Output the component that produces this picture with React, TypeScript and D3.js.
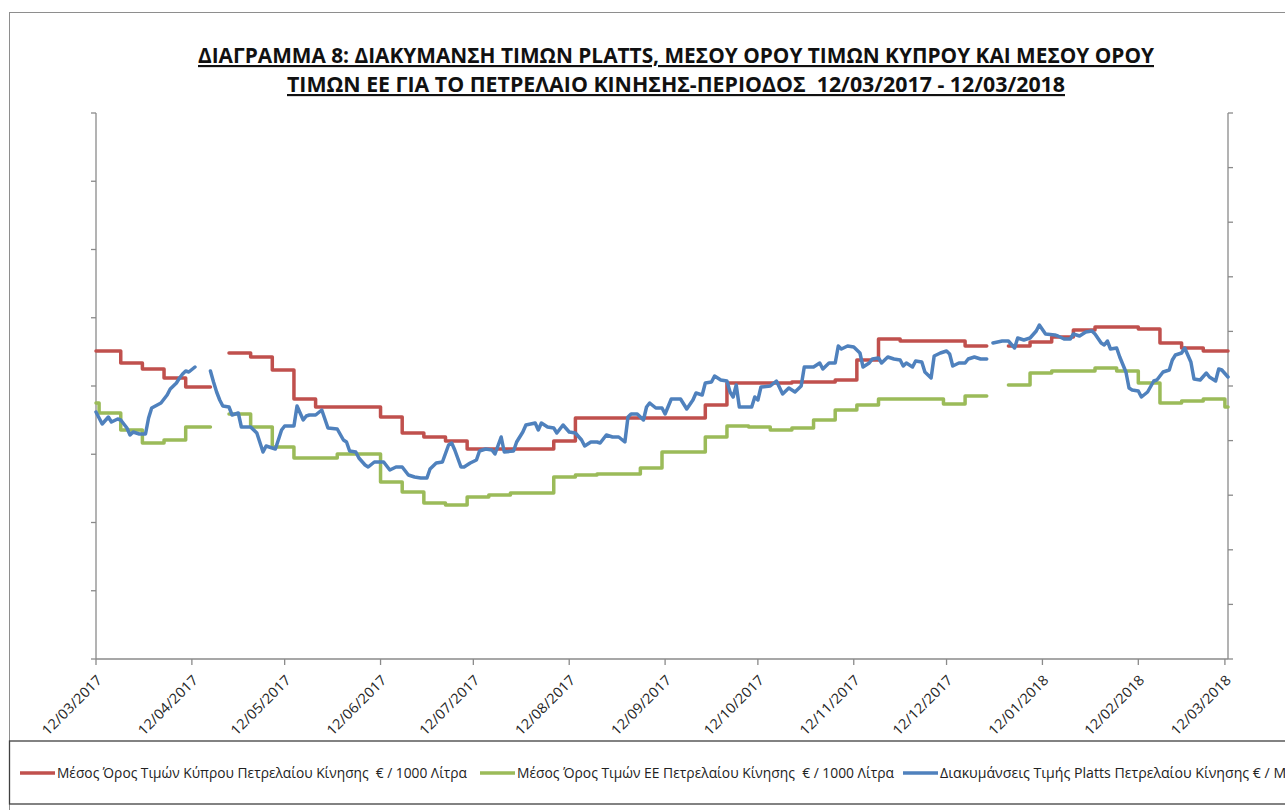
import * as d3 from "d3";
import React, { useEffect, useRef } from "react";

// title (two lines, as in the original)
const titleLines = [
    "ΔΙΑΓΡΑΜΜΑ 8: ΔΙΑΚΥΜΑΝΣΗ ΤΙΜΩΝ PLATTS, ΜΕΣΟΥ ΟΡΟΥ ΤΙΜΩΝ ΚΥΠΡΟΥ ΚΑΙ ΜΕΣΟΥ ΟΡΟΥ",
    "ΤΙΜΩΝ ΕΕ ΓΙΑ ΤΟ ΠΕΤΡΕΛΑΙΟ ΚΙΝΗΣΗΣ-ΠΕΡΙΟΔΟΣ  12/03/2017 - 12/03/2018",
];

const seriesNames = [
    "Μέσος Όρος Τιμών Κύπρου Πετρελαίου Κίνησης  € / 1000 Λίτρα",
    "Μέσος Όρος Τιμών ΕΕ Πετρελαίου Κίνησης  € / 1000 Λίτρα",
    "Διακυμάνσεις Τιμής Platts Πετρελαίου Κίνησης € / MT",
];
const seriesColours = ["#C0504D", "#9BBB59", "#4F81BD"];

const tickLabels = [
    "12/03/2017", "12/04/2017", "12/05/2017", "12/06/2017", "12/07/2017",
    "12/08/2017", "12/09/2017", "12/10/2017", "12/11/2017", "12/12/2017",
    "12/01/2018", "12/02/2018", "12/03/2018",
];

const startDate = "12/03/2017";
const endDate = "13/03/2018";

// the value axes have no labels in the original, these ranges are estimates
const leftDomain = [300, 846];   // € / 1000 L
const rightDomain = [200, 746];  // € / MT

// [days since 12/03/2017, price], null = no data (holidays)
const cyprusAvg: [number, number | null][] = [
    [0, 608], [8, 596], [15, 590], [22, 581], [29, 572], [37, 572], [40, null],
    [43, 606], [50, 602], [57, 589], [64, 560], [71, 552], [92, 542], [99, 526],
    [106, 522], [113, 518], [120, 510], [148, 518], [155, 541], [197, 554],
    [204, 576], [225, 577], [239, 579], [246, 599], [253, 620], [260, 618],
    [281, 613], [288, 613], [291, null],
    [295, 613], [302, 617], [309, 622], [316, 629], [323, 632], [337, 630],
    [344, 616], [351, 611], [358, 608], [366, 608],
];

const euAvg: [number, number | null][] = [
    [0, 556], [1, 546], [8, 529], [15, 516], [22, 519], [29, 532], [37, 532], [40, null],
    [43, 545], [50, 532], [57, 512], [64, 501], [78, 505], [92, 477], [99, 467],
    [106, 456], [113, 454], [120, 462], [127, 464], [134, 466], [148, 482],
    [155, 484], [162, 485], [176, 491], [183, 507], [197, 522], [204, 533],
    [211, 532], [218, 529], [225, 531], [232, 539], [239, 549], [246, 554],
    [253, 560], [274, 555], [281, 563], [288, 563], [291, null],
    [295, 574], [302, 586], [309, 588], [323, 591], [330, 588], [337, 576],
    [344, 556], [351, 558], [358, 560], [365, 552], [366, 552],
];

const platts: [number, number | null][] = [
    [0, 447], [2, 435], [4, 442], [5, 437], [7, 440], [8, 439], [10, 431], [11, 424],
    [12, 427], [14, 425], [16, 425], [17, 441], [18, 451], [21, 456], [23, 464],
    [24, 470], [26, 476], [27, 481], [28, 485], [29, 488], [30, 487], [32, 492],
    [34, null],
    [37, 488], [38, 477], [39, 467], [40, 459], [41, 453], [43, 452], [44, 444],
    [46, 446], [47, 432], [50, 432], [52, 426], [54, 407], [55, 413], [56, 412],
    [58, 410], [60, 429], [61, 433], [64, 433], [65, 453], [67, 439], [68, 443],
    [69, 444], [71, 444], [73, 449], [75, 431], [78, 430], [80, 419], [81, 417],
    [82, 408], [84, 407], [85, 401], [87, 394], [88, 392], [90, 397], [93, 397],
    [95, 389], [97, 392], [99, 392], [101, 384], [103, 382], [105, 381], [107, 381],
    [108, 390], [110, 396], [112, 397], [114, 414], [115, 416], [116, 409], [118, 392],
    [119, 392], [121, 396], [123, 399], [124, 408], [126, 410], [128, 409], [129, 405],
    [131, 422], [132, 407], [135, 408], [136, 417], [138, 427], [139, 434], [142, 436],
    [143, 429], [144, 436], [146, 432], [148, 431], [149, 426], [151, 434], [153, 427],
    [155, 426], [157, 419], [158, 413], [160, 417], [162, 417], [163, 416], [165, 424],
    [167, 422], [169, 422], [171, 417], [172, 442], [173, 445], [175, 445], [177, 439],
    [178, 452], [179, 456], [181, 451], [183, 451], [184, 445], [186, 460], [189, 460],
    [191, 450], [193, 459], [194, 466], [196, 464], [197, 476], [199, 477], [200, 483],
    [202, 479], [204, 478], [205, 467], [206, 462], [207, 474], [208, 452], [212, 452],
    [213, 462], [214, 459], [215, 472], [218, 473], [220, 478], [222, 465], [224, 471],
    [226, 467], [228, 473], [229, 492], [232, 492], [234, 496], [235, 490], [237, 496],
    [239, 496], [240, 513], [241, 510], [243, 513], [245, 512], [247, 506], [248, 492],
    [250, 496], [251, 500], [253, 501], [254, 496], [256, 502], [258, 500], [260, 499],
    [261, 493], [262, 496], [264, 492], [265, 498], [267, 497], [268, 487], [270, 481],
    [271, 503], [273, 506], [275, 508], [276, 505], [277, 493], [279, 496], [281, 496],
    [282, 500], [284, 502], [286, 500], [288, 500],
    [289, null],
    [290, 516], [293, 518], [295, 518], [297, 511], [298, 521], [300, 519], [302, 521],
    [304, 528], [305, 534], [307, 525], [310, 524], [311, 523], [313, 520], [315, 520],
    [316, 525], [318, 523], [320, 527], [322, 528], [323, 525], [325, 516], [326, 514],
    [327, 518], [328, 510], [330, 511], [331, 502], [333, 487], [334, 471], [335, 469],
    [337, 468], [338, 462], [340, 467], [342, 478], [343, 479], [345, 487], [347, 489],
    [348, 499], [349, 504], [351, 506], [352, 511], [354, 497], [355, 480], [357, 479],
    [359, 486], [360, 482], [362, 478], [363, 490], [364, 489], [366, 482],
];

const width = 1285;
const height = 810;
const plotLeft = 96;
const plotRight = 1228;
const plotTop = 113;
const plotBottom = 659;
const axisColour = "#8a8a8a";
const font = "'Open Sans', 'Noto Sans', sans-serif";

function App() {

    const svgRef: any = useRef<any>(null);

    useEffect(() => {
        draw();
    }, [])

    const draw = () => {
        const svg = d3.select(svgRef.current);
        svg.selectAll("*").remove();

        const parse = d3.timeParse("%d/%m/%Y");
        const start = parse(startDate) as Date;
        const toDate = (d: number) => d3.timeDay.offset(start, d);

        const x = d3.scaleTime()
            .domain([start, parse(endDate) as Date])
            .range([plotLeft, plotRight]);
        const yLeft = d3.scaleLinear().domain(leftDomain).range([plotBottom, plotTop]);
        const yRight = d3.scaleLinear().domain(rightDomain).range([plotBottom, plotTop]);

        // chart frame
        svg.append("rect")
            .attr("x", 9.5).attr("y", 12.5)
            .attr("width", width).attr("height", height)
            .attr("fill", "white")
            .attr("stroke", "#8e8e8e");

        // title
        const titleY = [63, 92];
        const titleWidths = [956, 778];
        titleLines.forEach((t, i) => {
            svg.append("text")
                .attr("x", 676).attr("y", titleY[i])
                .attr("text-anchor", "middle")
                .attr("font-family", font)
                .attr("font-weight", 700)
                .attr("font-size", 21.5)
                .attr("fill", "#111")
                .attr("text-decoration", "underline")
                .attr("textLength", titleWidths[i])
                .attr("lengthAdjust", "spacingAndGlyphs")
                .style("white-space", "pre")
                .text(t);
        });

        // axes
        const axes = svg.append("g")
            .attr("stroke", axisColour)
            .attr("stroke-width", 1.3)
            .attr("fill", "none");

        axes.append("line")
            .attr("x1", plotLeft).attr("x2", plotLeft)
            .attr("y1", plotTop).attr("y2", plotBottom);
        axes.append("line")
            .attr("x1", plotRight).attr("x2", plotRight)
            .attr("y1", plotTop).attr("y2", plotBottom);
        axes.append("line")
            .attr("x1", plotLeft).attr("x2", plotRight)
            .attr("y1", plotBottom).attr("y2", plotBottom);

        const leftTicks = d3.range(9).map(i => leftDomain[0] + i * (leftDomain[1] - leftDomain[0]) / 8);
        axes.selectAll(".lt").data(leftTicks).join("line")
            .attr("x1", plotLeft - 5).attr("x2", plotLeft)
            .attr("y1", d => yLeft(d)).attr("y2", d => yLeft(d));

        const rightTicks = d3.range(11).map(i => rightDomain[0] + i * (rightDomain[1] - rightDomain[0]) / 10);
        axes.selectAll(".rt").data(rightTicks).join("line")
            .attr("x1", plotRight).attr("x2", plotRight + 5)
            .attr("y1", d => yRight(d)).attr("y2", d => yRight(d));

        const tickDates = tickLabels.map(t => parse(t) as Date);
        axes.selectAll(".xt").data(tickDates).join("line")
            .attr("x1", d => x(d)).attr("x2", d => x(d))
            .attr("y1", plotBottom).attr("y2", plotBottom + 6);

        svg.append("g").selectAll("text").data(tickLabels).join("text")
            .attr("transform", (d) => `translate(${x(parse(d) as Date) + 7}, ${plotBottom + 22}) rotate(-45)`)
            .attr("text-anchor", "end")
            .attr("font-family", font)
            .attr("font-size", 14)
            .attr("fill", "#262626")
            .attr("textLength", 78)
            .attr("lengthAdjust", "spacingAndGlyphs")
            .text(d => d);

        // series
        const stepLine = d3.line<[number, number | null]>()
            .defined(d => d[1] !== null)
            .x(d => x(toDate(d[0])))
            .y(d => yLeft(d[1] as number))
            .curve(d3.curveStepAfter);

        const plattsLine = d3.line<[number, number | null]>()
            .defined(d => d[1] !== null)
            .x(d => x(toDate(d[0])))
            .y(d => yRight(d[1] as number));

        const lines = [stepLine(euAvg), stepLine(cyprusAvg), plattsLine(platts)];
        const colours = [seriesColours[1], seriesColours[0], seriesColours[2]];
        lines.forEach((p, i) => {
            svg.append("path")
                .attr("d", p || "")
                .attr("fill", "none")
                .attr("stroke", colours[i])
                .attr("stroke-width", 3.5)
                .attr("stroke-linejoin", "round")
                .attr("stroke-linecap", "round");
        });

        // legend box
        const legend = svg.append("g");
        legend.append("rect")
            .attr("x", 9.5).attr("y", 741)
            .attr("width", width).attr("height", 63)
            .attr("fill", "none")
            .attr("stroke", "#404040")
            .attr("stroke-width", 1.3);

        const legendX = [20, 480, 903];
        const legendWidths = [410, 377, 354];
        seriesNames.forEach((name, i) => {
            legend.append("line")
                .attr("x1", legendX[i]).attr("x2", legendX[i] + 35)
                .attr("y1", 773).attr("y2", 773)
                .attr("stroke", seriesColours[i])
                .attr("stroke-width", 3.5);
            legend.append("text")
                .attr("x", legendX[i] + 37).attr("y", 777.5)
                .attr("font-family", font)
                .attr("font-size", 14)
                .attr("fill", "#222")
                .attr("textLength", legendWidths[i])
                .attr("lengthAdjust", "spacingAndGlyphs")
                .style("white-space", "pre")
                .text(name);
        });
    }

    return (
        <svg
            ref={svgRef}
            width={width}
            height={height}
            style={{ position: "absolute", left: 0, top: 0, background: "white" }}
        />
    );
}

export default App;
